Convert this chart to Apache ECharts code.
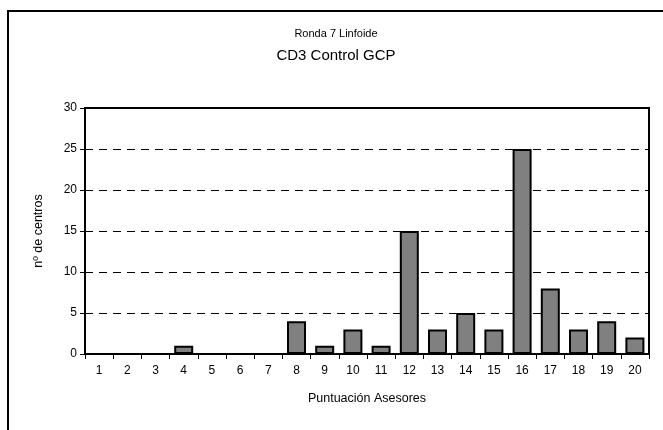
<!DOCTYPE html>
<html><head><meta charset="utf-8">
<script src="https://cdn.jsdelivr.net/npm/echarts@6/dist/echarts.min.js"></script>
<style>html,body{margin:0;padding:0;background:#fff}#c{width:663px;height:430px}</style>
</head><body><div id="c"></div>
<script>
var categories = ['1','2','3','4','5','6','7','8','9','10','11','12','13','14','15','16','17','18','19','20'];
var values = [0,0,0,1,0,0,0,4,1,3,1,15,3,5,3,25,8,3,4,2];
var yTicks = [0,5,10,15,20,25,30];
var F = 'Liberation Sans, Arial, sans-serif';
var chart = echarts.init(document.getElementById('c'), null, {renderer:'canvas'});
chart.setOption({
  animation:false,
  backgroundColor:'#fff',
  graphic:[{type:'rect', shape:{x:8,y:11,width:700,height:500}, style:{fill:'none',stroke:'#000',lineWidth:2}, z:100}],
  title:[
    {text:'Ronda 7 Linfoide', left:331, top:23, textAlign:'center', textStyle:{fontFamily:F,fontSize:11,fontWeight:'normal',color:'#000'}},
    {text:'CD3 Control GCP', left:331, top:43, textAlign:'center', textStyle:{fontFamily:F,fontSize:15,fontWeight:'normal',color:'#000'}}
  ],
  grid:{left:85, top:108, width:564, height:246, show:true, borderColor:'#000', borderWidth:2, backgroundColor:'transparent'},
  xAxis:{type:'category', data:categories, boundaryGap:true,
    name:'Puntuación Asesores', nameLocation:'middle', nameGap:38,
    nameTextStyle:{fontFamily:F,fontSize:12.5,color:'#000'},
    axisLine:{lineStyle:{color:'#000',width:2}},
    axisTick:{show:true, alignWithLabel:false, length:5, lineStyle:{color:'#000'}},
    axisLabel:{fontFamily:F,fontSize:12,color:'#000',margin:11, interval:0},
    splitLine:{show:false}},
  yAxis:{type:'value', min:0, max:30, interval:5,
    name:'nº de centros', nameLocation:'middle', nameGap:40, nameRotate:90,
    nameTextStyle:{fontFamily:F,fontSize:12.5,color:'#000'},
    axisLine:{show:true,lineStyle:{color:'#000',width:2}},
    axisTick:{show:true, length:5, lineStyle:{color:'#000'}},
    axisLabel:{fontFamily:F,fontSize:12,color:'#000',margin:8},
    splitLine:{show:true, lineStyle:{color:'#000',type:[8,6],width:1}}},
  series:[{type:'bar', data:values, barWidth:19,
    itemStyle:{color:'#808080', borderColor:'#000', borderWidth:2}}]
});
</script></body></html>
